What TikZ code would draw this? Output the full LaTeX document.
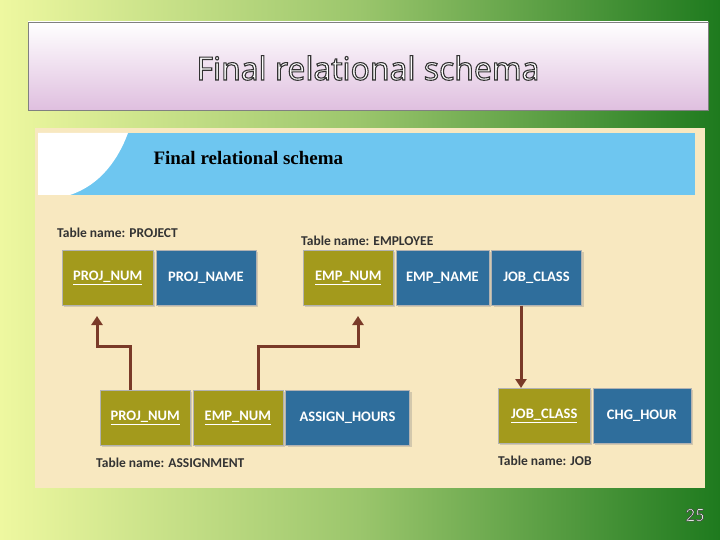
\documentclass[tikz,border=0pt]{standalone}
\usepackage{fontspec}
\setmainfont{Carlito}
\newfontfamily\titlefont{Open Sans}
\newfontfamily\headfont{Liberation Serif}
\usetikzlibrary{positioning,arrows.meta,shadows}
\newcommand{\outlined}[2]{\special{pdf:literal direct 2 Tr #1 w 0.2 0.2 0.2 RG}#2\special{pdf:literal direct 0 Tr}}
\definecolor{bgyel}{HTML}{EEF8A0}
\definecolor{bggrn}{HTML}{1E7A1E}
\definecolor{panel}{HTML}{F8E8C0}
\definecolor{skyb}{HTML}{6EC6F0}
\definecolor{olive}{HTML}{A39A1C}
\definecolor{cellb}{HTML}{2F6E9C}
\definecolor{brn}{HTML}{7A3A28}
\tikzset{
  cell/.style={minimum height=55pt, inner sep=0pt, text=white,
    font=\fontsize{14.5}{16}\selectfont\bfseries, draw=black!30, line width=0.6pt,
    drop shadow={shadow xshift=2pt, shadow yshift=-2pt, opacity=0.3}},
  key/.style={cell, fill=olive},
  att/.style={cell, fill=cellb},
  tname/.style={font=\fontsize{13.5}{15}\selectfont\bfseries, text=black!80, anchor=west, inner sep=0pt},
  link/.style={brn, line width=3pt, -{Triangle[length=9pt,width=11pt]}}
}
\begin{document}
\begin{tikzpicture}[x=1pt,y=-1pt]
\useasboundingbox (0,0) rectangle (720,540);
% background
\shade[left color=bgyel, right color=bggrn, middle color=bgyel!60!bggrn] (0,0) rectangle (720,540);
\shade[top color=white, bottom color=violet!25, draw=black!50] (28,22) rectangle (708,110);
\node[text=white] (title) at (368,68) {\titlefont\fontsize{32}{36}\selectfont\outlined{1.1}{Final relational schema}};
% panel
\fill[panel] (35,128) rectangle (705,488);
\fill[skyb] (38,133) rectangle (695,195);
\fill[white] (38,133) -- (128,133) .. controls (118,160) and (100,185) .. (70,195) -- (38,195) -- cycle;
\node[anchor=west, font=\headfont\bfseries\fontsize{19}{22}\selectfont] (head) at (150,158) {Final relational schema};
% PROJECT
\node[key, minimum width=91pt, anchor=north west] (pnum) at (62,250) {\underline{PROJ\_NUM}};
\node[att, minimum width=100pt, right=2pt of pnum] (pname) {PROJ\_NAME};
\node[tname] (tproj) at (57,233) {Table name: PROJECT};
% EMPLOYEE
\node[key, minimum width=90pt, anchor=north west] (enum) at (303,250) {\underline{EMP\_NUM}};
\node[att, minimum width=93pt, right=2pt of enum] (ename) {EMP\_NAME};
\node[att, minimum width=90pt, right=2pt of ename] (eclass) {JOB\_CLASS};
\node[tname] (temp) at (301,241) {Table name: EMPLOYEE};
% ASSIGNMENT
\node[key, minimum width=90pt, anchor=north west] (apnum) at (100,390) {\underline{PROJ\_NUM}};
\node[key, minimum width=90pt, right=2pt of apnum] (aenum) {\underline{EMP\_NUM}};
\node[att, minimum width=124pt, right=2pt of aenum] (ahours) {ASSIGN\_HOURS};
\node[tname] (tasg) at (96,463) {Table name: ASSIGNMENT};
% JOB
\node[key, minimum width=92pt, anchor=north west] (jclass) at (498,388) {\underline{JOB\_CLASS}};
\node[att, minimum width=98pt, right=2pt of jclass] (jhour) {CHG\_HOUR};
\node[tname] (tjob) at (498,461) {Table name: JOB};
% links
\coordinate (pin) at (97,316);
\coordinate (ein) at (358,316);
\draw[link] (apnum.north -| 130,0) |- (97,346) -- (pin);
\draw[link] (aenum.north -| 258,0) |- (358,346) -- (ein);
\draw[link] (eclass.south -| 521,0) -- (jclass.north -| 521,0);
% page number
\node[text=white] (pg) at (695,515) {\fontsize{19}{21}\selectfont\outlined{0.5}{25}};
\end{tikzpicture}
\end{document}
